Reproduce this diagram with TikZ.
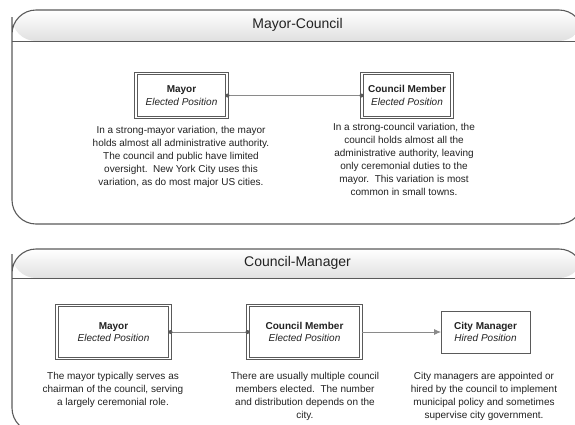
\documentclass[tikz,border=0pt]{standalone}
\usepackage{fontspec}
\setmainfont{Liberation Sans}
\usetikzlibrary{arrows.meta}
\definecolor{edge}{HTML}{5A5A5A}
\definecolor{conn}{HTML}{8A8A8A}
\definecolor{txt}{HTML}{222222}
\begin{document}
\begin{tikzpicture}[x=1pt,y=-1pt,
  panel/.style={draw=edge,line width=1.1pt,rounded corners=24pt},
  bar/.style={top color=white,bottom color=black!12,rounded corners=24pt},
  titletext/.style={font=\fontsize{14}{16}\selectfont,text=txt},
  posbox/.style={draw=edge,line width=1pt,double=white,double distance=1.8pt,fill=white,align=center,inner sep=0pt,text=txt,font=\fontsize{10}{12.5}\selectfont},
  hirebox/.style={draw=edge,line width=0.9pt,fill=white,align=center,inner sep=0pt,text=txt,font=\fontsize{10}{12.5}\selectfont},
  desc/.style={anchor=north,align=center,inner sep=0pt,text=txt,font=\fontsize{10}{13}\selectfont},
  link/.style={draw=conn,line width=0.8pt},
  enddot/.style={circle,fill=edge,inner sep=0pt,minimum size=4pt}
]
\useasboundingbox (0,0) rectangle (575,424);
\begin{scope}
\clip (0,0) rectangle (575,424);
% top panel
\fill[white,rounded corners=24pt] (12,41) -- (12,10) -- (583,10) -- (583,224) -- (12,224) -- cycle;
\shade[bar] (12,41) -- (12,10) -- (583,10) -- (583,41) -- cycle;
\draw[edge,line width=1pt] (12,41) -- (583,41);
\draw[panel] (12,41) -- (12,10) -- (583,10) -- (583,224) -- (12,224) -- cycle;
% bottom panel
\fill[white,rounded corners=24pt] (12,278) -- (12,249) -- (583,249) -- (583,432) -- (12,432) -- cycle;
\shade[bar] (12,278) -- (12,249) -- (583,249) -- (583,278) -- cycle;
\draw[edge,line width=1pt] (12,278) -- (583,278);
\draw[panel] (12,278) -- (12,249) -- (583,249) -- (583,432) -- (12,432) -- cycle;
\end{scope}

\node[titletext] (t1) at (297.5,25) {Mayor-Council};
\node[titletext] (t2) at (297.5,263) {Council-Manager};

% top panel content
\node[posbox,minimum width=91pt,minimum height=44pt] (m1) at (181.5,95.5)
  {\textbf{Mayor}\\\textit{Elected Position}};
\node[posbox,minimum width=90pt,minimum height=44pt] (c1) at (407,95.5)
  {\textbf{Council Member}\\\textit{Elected Position}};
\draw[link] (m1.east) -- (c1.west);
\node[enddot] (d1) at (m1.east) {};
\node[enddot] (d2) at (c1.west) {};

\node[desc] (mt1) at (181,126) {In a strong-mayor variation, the mayor\\holds almost all administrative authority.\\The council and public have limited\\oversight.\ \ New York City uses this\\variation, as do most major US cities.};
\node[desc] (ct1) at (404,123) {In a strong-council variation, the\\council holds almost all the\\administrative authority, leaving\\only ceremonial duties to the\\mayor.\ \ This variation is most\\common in small towns.};

% bottom panel content
\node[posbox,minimum width=113pt,minimum height=53pt] (m2) at (113.5,332)
  {\textbf{Mayor}\\\textit{Elected Position}};
\node[posbox,minimum width=113pt,minimum height=53pt] (c2) at (304.5,332)
  {\textbf{Council Member}\\\textit{Elected Position}};
\node[hirebox,minimum width=89pt,minimum height=42pt] (h2) at (485.5,332)
  {\textbf{City Manager}\\\textit{Hired Position}};
\draw[link] (m2.east) -- (c2.west);
\node[enddot] (d3) at (m2.east) {};
\node[enddot] (d4) at (c2.west) {};
\draw[link,-{Latex[length=7pt,width=6pt]},shorten >=-0.5pt] (c2.east) -- (h2.west);

\node[desc] (mt2) at (113,372) {The mayor typically serves as\\chairman of the council, serving\\a largely ceremonial role.};
\node[desc] (ct2) at (305,372) {There are usually multiple council\\members elected.\ \ The number\\and distribution depends on the\\city.};
\node[desc] (ht2) at (484,372) {City managers are appointed or\\hired by the council to implement\\municipal policy and sometimes\\supervise city government.};
\end{tikzpicture}
\end{document}
